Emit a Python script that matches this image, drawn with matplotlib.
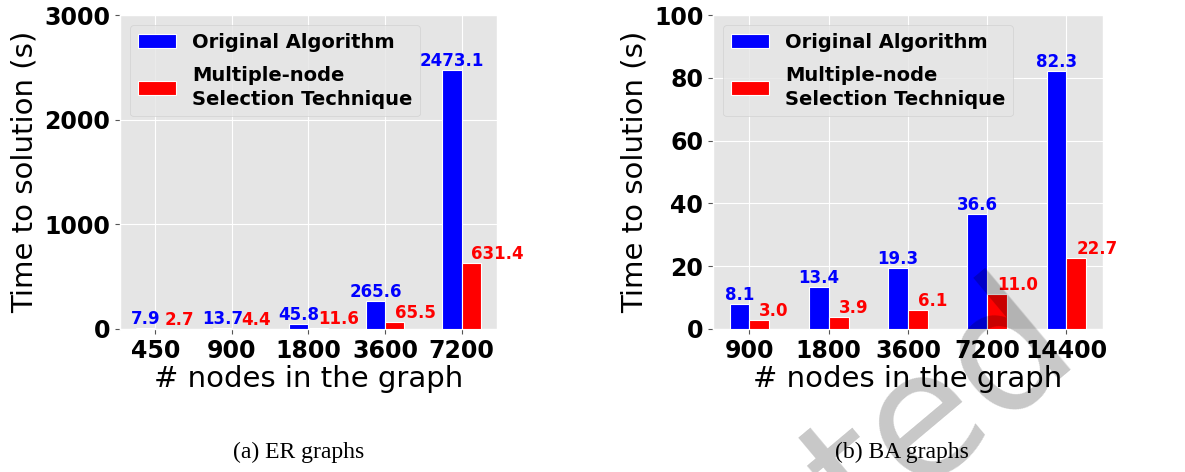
import matplotlib
matplotlib.use("Agg")
import matplotlib.pyplot as plt
import numpy as np

plt.style.use("ggplot")

er_nodes = ["450", "900", "1800", "3600", "7200"]
er_original = [7.9, 13.7, 45.8, 265.6, 2473.1]
er_multi = [2.7, 4.4, 11.6, 65.5, 631.4]

ba_nodes = ["900", "1800", "3600", "7200", "14400"]
ba_original = [8.1, 13.4, 19.3, 36.6, 82.3]
ba_multi = [3.0, 3.9, 6.1, 11.0, 22.7]

legend_labels = ["Original Algorithm", "Multiple-node\nSelection Technique"]


def draw_panel(ax, nodes, original, multi, ymax, yticks):
    x = np.arange(len(nodes))
    w = 0.25
    b1 = ax.bar(x - w / 2, original, w, color="blue", edgecolor="white",
                linewidth=0.8, label=legend_labels[0], zorder=3)
    b2 = ax.bar(x + w / 2, multi, w, color="red", edgecolor="white",
                linewidth=0.8, label=legend_labels[1], zorder=3)
    for rect, v in zip(b1, original):
        ax.text(rect.get_x() + rect.get_width() / 2, v, f"{v:.1f}",
                ha="center", va="bottom", color="blue", fontsize=12,
                fontweight="bold", zorder=4)
    for rect, v in zip(b2, multi):
        ax.text(rect.get_x() + rect.get_width() / 2, v, f"{v:.1f}",
                ha="left", va="bottom", color="red", fontsize=12,
                fontweight="bold", zorder=4)
    ax.set_xticks(x)
    ax.set_xticklabels(nodes)
    ax.set_xlim(-0.46, len(nodes) - 1 + 0.46)
    ax.set_ylim(0, ymax)
    ax.set_yticks(yticks)
    ax.tick_params(axis="both", labelsize=17, labelcolor="black",
                   color="#555555")
    for lab in ax.get_xticklabels() + ax.get_yticklabels():
        lab.set_fontweight("bold")
    ax.set_xlabel("# nodes in the graph", fontsize=21, color="black",
                  labelpad=2)
    ax.set_ylabel("Time to solution (s)", fontsize=21, color="black")
    leg = ax.legend(loc="upper left", prop={"size": 14, "weight": "bold"},
                    handlelength=2.0, labelspacing=0.75)
    for t in leg.get_texts():
        t.set_linespacing(1.3)
    return ax


fig = plt.figure(figsize=(11.85, 4.72), dpi=100)
ax1 = fig.add_axes([0.1013, 0.303, 0.318, 0.665])
ax2 = fig.add_axes([0.6017, 0.303, 0.329, 0.665])

draw_panel(ax1, er_nodes, er_original, er_multi, 3000, [0, 1000, 2000, 3000])
draw_panel(ax2, ba_nodes, ba_original, ba_multi, 100, [0, 20, 40, 60, 80, 100])

fig.text(0.252, 0.042, "(a) ER graphs", family="Liberation Serif",
         fontsize=17, ha="center", va="center")
fig.text(0.761, 0.042, "(b) BA graphs", family="Liberation Serif",
         fontsize=17, ha="center", va="center")

# partial watermark crossing the right panel
fig.text(0.795, 0.13, "ted", fontsize=125, color="black", alpha=0.22,
         rotation=40, ha="center", va="center", rotation_mode="anchor",
         zorder=10)

fig.savefig("out.png", dpi=100)
